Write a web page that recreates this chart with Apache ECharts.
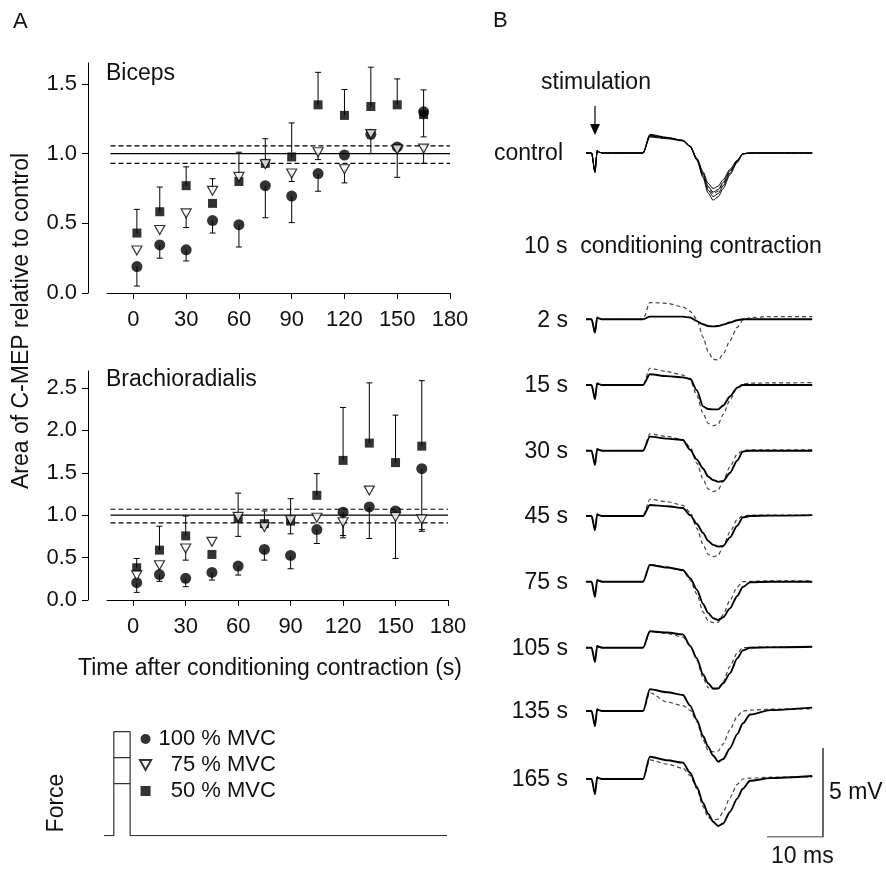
<!DOCTYPE html>
<html>
<head>
<meta charset="utf-8">
<script src="https://cdn.jsdelivr.net/npm/echarts@6/dist/echarts.min.js"></script>
<style>html,body{margin:0;padding:0;background:#fff;}#c{width:886px;height:870px;}</style>
</head>
<body>
<div id="c"></div>
<script>
// ---------- Panel A data ----------
const timeTicks = [0, 30, 60, 90, 120, 150, 180];
const bicepsTicks = [0, 0.5, 1.0, 1.5];
const brachioTicks = [0, 0.5, 1.0, 1.5, 2.0, 2.5];
const sampleT = [2, 15, 30, 45, 60, 75, 90, 105, 120, 135, 150, 165];

const biceps100    = [0.19, 0.345, 0.31, 0.52, 0.49, 0.77, 0.695, 0.857, 0.99, 1.138, 1.048, 1.30];
const biceps100Tip = [0.05, 0.25, 0.23, 0.43, 0.33, 0.54, 0.505, 0.73, null, 1.0, 0.83, 1.12];
const biceps75     = [0.305, 0.452, 0.571, 0.733, 0.833, 0.924, 0.857, 1.01, 0.888, 1.14, 1.03, 1.036];
const biceps75Tip  = [null, null, 0.47, 0.82, null, null, 0.80, 0.957, 0.79, null, null, 0.93];
const biceps50     = [0.43, 0.583, 0.77, 0.643, 0.80, 0.93, 0.976, 1.35, 1.274, 1.338, 1.35, 1.28];
const biceps50Tip  = [0.60, 0.76, 0.905, null, 1.01, 1.107, 1.22, 1.583, 1.46, 1.62, 1.536, 1.457];
const bicepsRef    = [0.93, 1.0, 1.055];

const brachio100    = [0.204, 0.30, 0.255, 0.325, 0.40, 0.596, 0.525, 0.83, 1.035, 1.097, 1.05, 1.548];
const brachio100Tip = [0.09, 0.22, 0.157, 0.235, 0.294, 0.47, 0.368, 0.666, 0.76, 0.725, 0.49, 0.81];
const brachio75     = [0.29, 0.41, 0.607, 0.686, 0.98, 0.86, 0.94, 0.97, 0.917, 1.29, 0.98, 0.95];
const brachio75Tip  = [null, null, 0.47, null, 0.75, null, 0.78, null, 0.733, null, null, 0.83];
const brachio50     = [0.38, 0.588, 0.756, 0.537, 0.96, 0.90, 0.93, 1.234, 1.646, 1.85, 1.62, 1.814];
const brachio50Tip  = [0.49, 0.87, 0.99, null, 1.26, 1.05, 1.195, 1.49, 2.27, 2.56, 2.18, 2.586];
const brachioRef    = [0.91, 1.0, 1.07];
const refSpan = [-13, 180];

const seriesNames = ['100 % MVC', '  75 % MVC', '  50 % MVC'];

// Force protocol (s, % MVC)
const forceT = [-6, 0, 0, 10, 10, 204];
const forceV = [0, 0, 100, 100, 0, 0];
const forceLevels = [75, 50];
const contraction = [0, 10];

// ---------- Panel B data (ms, mV) ----------
const traceT = [0, 1.0, 1.6, 2.0, 2.3, 2.9, 10.2, 11.4, 14.5, 17.3, 18.6, 19.8, 20.9, 21.8, 22.7, 23.6, 24.5, 25.7, 27.0, 28.0, 29.3, 32.9, 40.4];
const traceLabels = ['control', '2 s', '15 s', '30 s', '45 s', '75 s', '105 s', '135 s', '165 s'];

const control1 = [0,0,-1.07,0.15,0.05,0,0,0.95,0.85,0.72,0.4,-0.3,-1.05,-1.7,-2.0,-1.86,-1.5,-0.92,-0.4,-0.04,0,0,0];
const control2 = [0,0,-1.0,0.15,0.05,0,0,1.0,0.85,0.7,0.38,-0.33,-1.15,-1.87,-2.2,-2.05,-1.65,-1.0,-0.44,-0.04,0,0,0];
const control3 = [0,0,-1.07,0.1,0.05,0,0,1.05,0.88,0.7,0.36,-0.37,-1.28,-2.08,-2.45,-2.28,-1.84,-1.13,-0.49,-0.05,0,0,0];
const control4 = [0,0,-1.1,0.1,0.05,0,0,0.9,0.8,0.68,0.35,-0.4,-1.38,-2.25,-2.65,-2.46,-1.99,-1.22,-0.53,-0.05,0,0,0];
const controlDash = [0,0,-1.05,0.12,0.05,0,0,0.98,0.85,0.7,0.37,-0.35,-1.2,-1.95,-2.3,-2.14,-1.73,-1.06,-0.46,-0.05,0,0,0];

const s2Solid  = [0,0,-0.75,0.1,0.05,0,0,0.15,0.15,0.15,0.1,-0.1,-0.28,-0.38,-0.4,-0.38,-0.3,-0.18,-0.05,0,0,0,0];
const s2Dash   = [0,0,-0.75,0.1,0.05,0,0,0.94,0.9,0.7,0.45,0.0,-1.0,-1.8,-2.25,-2.29,-1.95,-1.2,-0.45,-0.05,0.1,0.15,0.15];
const s15Solid = [0,0,-0.8,0.1,0.05,0,0,0.6,0.5,0.43,0.35,-0.3,-1.2,-1.35,-1.37,-1.37,-1.15,-0.65,-0.15,0,0,0,0];
const s15Dash  = [0,0,-0.8,0.1,0.05,0,0,0.94,0.75,0.56,0.3,-0.6,-1.6,-2.15,-2.29,-2.2,-1.65,-0.85,-0.15,0.05,0.1,0.12,0.13];
const s30Solid = [0,0,-0.8,0.1,0.05,0,0,0.79,0.68,0.6,0.05,-0.5,-1.0,-1.45,-1.65,-1.75,-1.7,-1.25,-0.55,-0.05,0,0,0];
const s30Dash  = [0,0,-0.8,0.1,0.05,0,0,0.94,0.8,0.62,0.2,-0.7,-1.6,-2.15,-2.3,-2.2,-1.7,-0.9,-0.2,0.02,0.05,0.05,0.05];
const s45Solid = [0,0,-0.8,0.1,0.05,0,0,0.62,0.55,0.45,0.05,-0.45,-0.95,-1.4,-1.62,-1.72,-1.68,-1.2,-0.55,-0.08,0,0.02,0.05];
const s45Dash  = [0,0,-0.8,0.1,0.05,0,0,0.94,0.8,0.6,0.2,-0.7,-1.6,-2.15,-2.29,-2.2,-1.7,-0.9,-0.2,0,0.05,0.05,0.05];
const s75Solid = [0,0,-0.85,0.1,0.05,0,0,0.94,0.8,0.66,0.2,-0.45,-1.25,-1.75,-2.05,-2.15,-2.0,-1.5,-0.8,-0.3,-0.03,0,0];
const s75Dash  = [0,0,-0.85,0.1,0.05,0,0,0.96,0.82,0.62,0.1,-0.7,-1.7,-2.2,-2.3,-2.28,-1.85,-1.05,-0.3,0,0.02,0.05,0.05];
const s105Solid = [0,0,-0.8,0.1,0.05,0,0,0.92,0.85,0.75,0.1,-0.6,-1.5,-2.0,-2.29,-2.29,-2.0,-1.44,-0.6,-0.15,0,0.02,0.05];
const s105Dash  = [0,0,-0.8,0.1,0.05,0,0,0.9,0.8,0.6,0.1,-0.7,-1.7,-2.25,-2.32,-2.3,-1.9,-1.05,-0.3,0,0.02,0.05,0.05];
const s135Solid = [0,0,-0.85,0.1,0.05,0,0,1.22,1.05,0.9,0.3,-0.5,-1.4,-2.0,-2.5,-2.85,-2.7,-2.1,-1.3,-0.7,-0.2,0.05,0.19];
const s135Dash  = [0,0,-0.85,0.1,0.05,0,0,1.03,0.5,0.3,0.05,-0.6,-1.6,-2.2,-2.29,-2.25,-1.85,-1.05,-0.3,0,0.05,0.1,0.12];
const s165Solid = [0,0,-0.85,0.1,0.05,0,0,1.25,1.05,0.92,0.35,-0.45,-1.35,-1.95,-2.4,-2.64,-2.5,-1.85,-1.1,-0.55,-0.1,0.05,0.17];
const s165Dash  = [0,0,-0.85,0.1,0.05,0,0,1.07,0.84,0.6,0.2,-0.55,-1.55,-2.15,-2.3,-2.25,-1.85,-1.05,-0.3,0,0.05,0.1,0.12];

const scaleBarT = [0, 10, 10];
const scaleBarV = [0, 0, 5];

// ---------- layout (pixels) ----------
const FONT = '"Liberation Sans", Arial, Helvetica, sans-serif';
const INK = '#111';
const traceBaselines = [153, 319.3, 385, 450.7, 516, 581.7, 647.7, 711, 779];
const PX_PER_MS = 5.6, PX_PER_MV = 17.8;
const T_MAX = 40.4, MV_MIN = -3, MV_MAX = 1.5;

const traces = [
  {solid: [control1, control2, control3, control4], dash: controlDash, w: 1},
  {solid: [s2Solid], dash: s2Dash, w: 1.9},
  {solid: [s15Solid], dash: s15Dash, w: 1.9},
  {solid: [s30Solid], dash: s30Dash, w: 1.9},
  {solid: [s45Solid], dash: s45Dash, w: 1.9},
  {solid: [s75Solid], dash: s75Dash, w: 1.9},
  {solid: [s105Solid], dash: s105Dash, w: 1.9},
  {solid: [s135Solid], dash: s135Dash, w: 1.9},
  {solid: [s165Solid], dash: s165Dash, w: 1.9}
];

const grids = [
  {left: 107, top: 63, width: 343, height: 230},
  {left: 107, top: 371, width: 341, height: 229},
  {left: 104, top: 731.7, width: 343, height: 104}
];
traceBaselines.forEach(b => grids.push({left: 586, top: b - MV_MAX * PX_PER_MV, width: T_MAX * PX_PER_MS, height: (MV_MAX - MV_MIN) * PX_PER_MV}));
grids.push({left: 767, top: 748, width: 10 * PX_PER_MS, height: 5 * PX_PER_MV});
const scaleGrid = grids.length - 1;

const axisLine = {show: true, onZero: false, lineStyle: {color: '#000', width: 1}};
const labelStyle = {fontSize: 22, fontFamily: FONT, color: INK};

const xAxes = [], yAxes = [];
[0, 1].forEach(g => {
  xAxes.push({gridIndex: g, type: 'value', min: -15, max: 180,
    axisLine: axisLine,
    axisTick: {show: true, length: 6, customValues: timeTicks, lineStyle: {color: '#000'}},
    axisLabel: Object.assign({customValues: timeTicks, margin: 16}, labelStyle),
    splitLine: {show: false}});
  const ticks = g === 0 ? bicepsTicks : brachioTicks;
  yAxes.push({gridIndex: g, type: 'value', min: 0, max: g === 0 ? 1.65 : 2.7, offset: 19,
    axisLine: axisLine,
    axisTick: {show: true, length: 6, customValues: ticks, lineStyle: {color: '#000'}},
    axisLabel: Object.assign({customValues: ticks, margin: 11, formatter: v => v.toFixed(1)}, labelStyle),
    splitLine: {show: false}});
});
xAxes.push({gridIndex: 2, type: 'value', min: -6, max: 204, show: false});
yAxes.push({gridIndex: 2, type: 'value', min: 0, max: 100, show: false});
traceBaselines.forEach((b, i) => {
  xAxes.push({gridIndex: 3 + i, type: 'value', min: 0, max: T_MAX, show: false});
  yAxes.push({gridIndex: 3 + i, type: 'value', min: MV_MIN, max: MV_MAX, show: false});
});
xAxes.push({gridIndex: scaleGrid, type: 'value', min: 0, max: 10, show: false});
yAxes.push({gridIndex: scaleGrid, type: 'value', min: 0, max: 5, show: false});

const series = [];
function errRender(params, api) {
  const x = api.value(0), y = api.value(1), tip = api.value(2);
  const p0 = api.coord([x, y]), p1 = api.coord([x, tip]);
  return {type: 'group', children: [
    {type: 'line', shape: {x1: p0[0], y1: p0[1], x2: p1[0], y2: p1[1]}, style: {stroke: '#000', lineWidth: 1}},
    {type: 'line', shape: {x1: p1[0] - 3, y1: p1[1], x2: p1[0] + 3, y2: p1[1]}, style: {stroke: '#000', lineWidth: 1}}
  ]};
}
const symbols = [
  {symbol: 'circle', size: 11, style: {color: '#000'}, z: 4},
  {symbol: 'path://M0,0L10,0L5,9Z', size: [10, 9], style: {color: '#fff', borderColor: '#000', borderWidth: 1.2}, z: 5},
  {symbol: 'path://M0,0L10,0L10,10L0,10Z', size: 9, style: {color: '#000'}, z: 3}
];
function addPanel(g, means, tips, refs) {
  refs.forEach((v, k) => {
    series.push({type: 'line', xAxisIndex: g, yAxisIndex: g, symbol: 'none', silent: true, z: 1,
      data: refSpan.map(t => [t, v]),
      lineStyle: {color: '#000', width: 1.2, type: k === 1 ? 'solid' : [5, 3]}});
  });
  means.forEach((m, s) => {
    const errData = [];
    sampleT.forEach((t, k) => { if (tips[s][k] !== null) errData.push([t, m[k], tips[s][k]]); });
    series.push({type: 'custom', xAxisIndex: g, yAxisIndex: g, renderItem: errRender, data: errData, z: 2, silent: true,
      encode: {x: 0, y: [1, 2]}});
    series.push({type: 'scatter', name: seriesNames[s], xAxisIndex: g, yAxisIndex: g,
      symbol: symbols[s].symbol, symbolSize: symbols[s].size, itemStyle: symbols[s].style, z: symbols[s].z,
      data: sampleT.map((t, k) => [t, m[k]])});
  });
}
addPanel(0, [biceps100, biceps75, biceps50], [biceps100Tip, biceps75Tip, biceps50Tip], bicepsRef);
addPanel(1, [brachio100, brachio75, brachio50], [brachio100Tip, brachio75Tip, brachio50Tip], brachioRef);

const forceLine = {color: '#333', width: 1.2};
series.push({type: 'line', xAxisIndex: 2, yAxisIndex: 2, symbol: 'none', lineStyle: forceLine,
  data: forceT.map((t, k) => [t, forceV[k]])});
forceLevels.forEach(l => series.push({type: 'line', xAxisIndex: 2, yAxisIndex: 2, symbol: 'none', lineStyle: forceLine,
  data: contraction.map(t => [t, l])}));

traces.forEach((tr, i) => {
  const ax = 3 + i;
  series.push({type: 'line', xAxisIndex: ax, yAxisIndex: ax, symbol: 'none', smooth: 0.25, smoothMonotone: 'x', z: 2,
    data: traceT.map((t, k) => [t, tr.dash[k]]),
    lineStyle: {color: '#444', width: 1.2, type: [4, 3]}});
  tr.solid.forEach(arr => series.push({type: 'line', xAxisIndex: ax, yAxisIndex: ax, symbol: 'none', smooth: 0.25, smoothMonotone: 'x', z: 3,
    data: traceT.map((t, k) => [t, arr[k]]),
    lineStyle: {color: '#000', width: tr.w}}));
});
series.push({type: 'line', xAxisIndex: scaleGrid, yAxisIndex: scaleGrid, symbol: 'none',
  data: scaleBarT.map((t, k) => [t, scaleBarV[k]]), lineStyle: {color: '#000', width: 1.2}});

function txt(text, x, y, opts) {
  opts = opts || {};
  return {type: 'text', x: x, y: y, rotation: opts.rot || 0, silent: true,
    style: {text: text, fill: INK, font: (opts.size || 23) + 'px ' + FONT,
      align: opts.align || 'left', verticalAlign: 'middle', textAlign: opts.align || 'left', textVerticalAlign: 'middle'}};
}
const graphics = [
  txt('A', 13, 22, {size: 22}),
  txt('B', 493, 21, {size: 22}),
  txt('Biceps', 106, 74),
  txt('Brachioradialis', 106, 380),
  txt('Area of C-MEP relative to control', 22, 321, {align: 'center', rot: Math.PI / 2}),
  txt('Time after conditioning contraction (s)', 270, 669, {align: 'center'}),
  txt('Force', 57, 803, {align: 'center', rot: Math.PI / 2}),
  txt('stimulation', 541, 83),
  txt('10 s  conditioning contraction', 524, 247),
  txt('5 mV', 829, 793),
  txt('10 ms', 771, 857),
  {type: 'line', shape: {x1: 595, y1: 106, x2: 595, y2: 126}, style: {stroke: '#000', lineWidth: 1.2}, silent: true},
  {type: 'polygon', shape: {points: [[590, 124], [600, 124], [595, 135]]}, style: {fill: '#000'}, silent: true}
];
traceLabels.forEach((l, i) => graphics.push(txt(l, i === 0 ? 563 : 568, traceBaselines[i] + 1, {align: 'right'})));

const chart = echarts.init(document.getElementById('c'), null, {renderer: 'canvas'});
chart.setOption({
  animation: false,
  backgroundColor: '#fff',
  grid: grids,
  xAxis: xAxes,
  yAxis: yAxes,
  legend: {orient: 'vertical', left: 134, top: 723, itemWidth: 16, itemHeight: 10, itemGap: 4, selectedMode: false,
    textStyle: {fontSize: 22, fontFamily: FONT, color: INK, lineHeight: 22},
    data: seriesNames},
  series: series,
  graphic: graphics
});
</script>
</body>
</html>
